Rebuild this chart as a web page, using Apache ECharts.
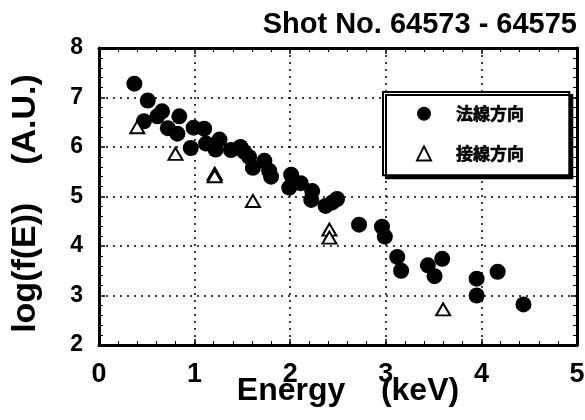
<!DOCTYPE html>
<html>
<head>
<meta charset="utf-8">
<script src="https://cdn.jsdelivr.net/npm/echarts@6/dist/echarts.min.js"></script>
<style>
  html, body { margin: 0; padding: 0; background: #fff; }
  #chart { width: 585px; height: 420px; }
</style>
</head>
<body>
<div id="chart"></div>
<script>
// Energy spectrum, shots 64573 - 64575
const titleText = 'Shot No. 64573 - 64575';
const seriesNames = ['法線方向', '接線方向'];

// normal direction (filled circles)
const energyNormal = [0.37, 0.51, 0.47, 0.61, 0.66, 0.72, 0.84, 0.82, 0.99, 1.10,
  0.96, 1.12, 1.26, 1.22, 1.38, 1.48, 1.52, 1.57, 1.61, 1.73,
  1.78, 1.80, 2.01, 1.99, 2.11, 2.23, 2.22, 2.37, 2.44, 2.49,
  2.72, 2.96, 2.99, 3.12, 3.16, 3.44, 3.51, 3.59, 3.95, 3.95,
  4.17, 4.44];
const logNormal = [7.28, 6.94, 6.52, 6.62, 6.72, 6.38, 6.62, 6.27, 6.39, 6.37,
  5.98, 6.07, 6.15, 5.95, 5.94, 6.00, 5.90, 5.80, 5.58, 5.72,
  5.52, 5.40, 5.44, 5.18, 5.27, 5.11, 4.93, 4.81, 4.88, 4.95,
  4.43, 4.39, 4.19, 3.78, 3.50, 3.61, 3.39, 3.74, 3.34, 3.00,
  3.48, 2.82];

// tangential direction (open triangles)
const energyTangent = [0.40, 0.80, 1.21, 1.21, 1.61, 2.41, 2.41, 3.60];
const logTangent = [6.40, 5.86, 5.46, 5.41, 4.91, 4.33, 4.17, 2.72];

const xRange = [0, 5];
const yRange = [2, 8];

const pairs = (xs, ys) => xs.map((x, i) => [x, ys[i]]);

const FONT = '"Liberation Sans", Arial, sans-serif';
const CJK = '"Noto Sans CJK JP", "Noto Sans CJK SC", sans-serif';

// top and right frame edges: plain axes with inside ticks, no labels
const frameAxis = {
  type: 'value', interval: 1,
  axisLine: { show: true, onZero: false, lineStyle: { color: '#000', width: 3 } },
  axisTick: { show: true, inside: true, length: 6, lineStyle: { color: '#000', width: 1.5 } },
  minorTick: { show: true, splitNumber: 5, length: 4, lineStyle: { color: '#000', width: 1 } },
  splitLine: { show: false },
  axisLabel: { show: false }
};

const chart = echarts.init(document.getElementById('chart'), null, { renderer: 'canvas' });

chart.setOption({
  animation: false,
  backgroundColor: '#fff',
  title: {
    text: titleText,
    right: 8,
    top: 10,
    padding: 0,
    textStyle: { fontFamily: FONT, fontWeight: 'bold', fontSize: 29, color: '#000' }
  },
  grid: { left: 99, right: 8, top: 48, bottom: 75, containLabel: false, outerBoundsMode: 'none' },
  legend: {
    orient: 'vertical',
    left: 383,
    top: 92,
    padding: [13, 45, 13, 33],
    itemWidth: 14,
    itemHeight: 14,
    itemGap: 22,
    backgroundColor: '#fff',
    borderColor: '#000',
    borderWidth: 2,
    borderRadius: 0,
    shadowColor: '#000',
    shadowBlur: 0,
    shadowOffsetX: 3,
    shadowOffsetY: 3,
    z: 10,
    textStyle: {
      fontFamily: CJK, fontWeight: 'bold', fontSize: 17, color: '#000',
      textBorderColor: '#000', textBorderWidth: 0.6,
      padding: [0, 0, 0, 20]
    },
    data: [
      { name: seriesNames[0], icon: 'circle', itemStyle: { color: '#000', borderWidth: 0 } },
      { name: seriesNames[1], icon: 'triangle', itemStyle: { color: '#fff', borderColor: '#000', borderWidth: 2 } }
    ]
  },
  xAxis: [
    {
      type: 'value', min: xRange[0], max: xRange[1], interval: 1, position: 'bottom',
      name: 'Energy    (keV)',
      nameLocation: 'middle',
      nameGap: 30,
      nameMoveOverlap: false,
      nameTextStyle: { fontFamily: FONT, fontWeight: 'bold', fontSize: 32, color: '#000', padding: [0, 0, 0, 20] },
      axisLine: { show: true, onZero: false, lineStyle: { color: '#000', width: 3 } },
      axisTick: { show: true, inside: true, length: 6, lineStyle: { color: '#000', width: 1.5 } },
      minorTick: { show: true, splitNumber: 5, length: 4, lineStyle: { color: '#000', width: 1 } },
      splitLine: { show: true, lineStyle: { color: '#000', width: 1.5, type: [2, 5] } },
      axisLabel: { fontFamily: FONT, fontWeight: 'bold', fontSize: 27, color: '#000', margin: 16 }
    },
    Object.assign({}, frameAxis, { min: xRange[0], max: xRange[1], position: 'top' })
  ],
  yAxis: [
    {
      type: 'value', min: yRange[0], max: yRange[1], interval: 1, position: 'left',
      name: 'log(f(E))    (A.U.)',
      nameLocation: 'middle',
      nameGap: 56,
      nameMoveOverlap: false,
      nameTextStyle: { fontFamily: FONT, fontWeight: 'bold', fontSize: 34, color: '#000', padding: [0, 14, 0, 0] },
      axisLine: { show: true, onZero: false, lineStyle: { color: '#000', width: 3 } },
      axisTick: { show: true, inside: true, length: 6, lineStyle: { color: '#000', width: 1.5 } },
      minorTick: { show: true, splitNumber: 5, length: 4, lineStyle: { color: '#000', width: 1 } },
      splitLine: { show: true, lineStyle: { color: '#000', width: 1.5, type: [2, 5] } },
      axisLabel: { fontFamily: FONT, fontWeight: 'bold', fontSize: 23, color: '#000', margin: 16 }
    },
    Object.assign({}, frameAxis, { min: yRange[0], max: yRange[1], position: 'right' })
  ],
  series: [
    {
      name: seriesNames[0],
      type: 'scatter',
      xAxisIndex: 0, yAxisIndex: 0,
      symbol: 'circle',
      symbolSize: 16,
      itemStyle: { color: '#000', opacity: 1 },
      data: pairs(energyNormal, logNormal)
    },
    {
      name: seriesNames[1],
      type: 'scatter',
      xAxisIndex: 0, yAxisIndex: 0,
      symbol: 'triangle',
      symbolSize: [14, 12],
      itemStyle: { color: '#fff', borderColor: '#000', borderWidth: 2, opacity: 1 },
      data: pairs(energyTangent, logTangent)
    }
  ]
});
</script>
</body>
</html>
